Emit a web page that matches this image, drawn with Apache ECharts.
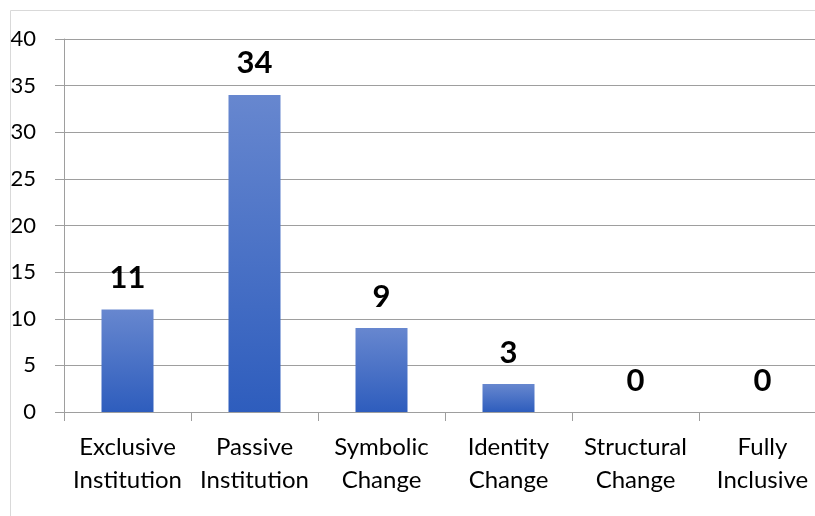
<!DOCTYPE html>
<html><head><meta charset="utf-8">
<script src="https://cdn.jsdelivr.net/npm/echarts@6/dist/echarts.min.js"></script>
<style>html,body{margin:0;padding:0;background:#fff}#c{width:815px;height:516px}</style>
</head><body><div id="c"></div>
<script>
const categories = ['Exclusive\nInstitution','Passive\nInstitution','Symbolic\nChange','Identity\nChange','Structural\nChange','Fully\nInclusive'];
const values = [11, 34, 9, 3, 0, 0];
const yMin = 0, yMax = 40, yStep = 5;

const chart = echarts.init(document.getElementById('c'), null, {renderer:'canvas'});
const font = 'Lato, "Open Sans", sans-serif';
chart.setOption({
  animation: false,
  graphic: [{
    type: 'rect', left: 8, top: 8, shape: {width: 900, height: 506},
    style: {fill: 'none', stroke: '#d9d9d9', lineWidth: 1}, silent: true, z: -1
  }],
  grid: {left: 64, width: 762, top: 39, height: 373, containLabel: false, outerBoundsMode: 'none'},
  xAxis: {
    type: 'category', data: categories,
    axisLine: {lineStyle: {color: '#9e9e9e', width: 1}},
    axisTick: {show: true, length: 9, alignWithLabel: false, lineStyle: {color: '#9e9e9e'}},
    axisLabel: {color: '#000', fontFamily: font, fontSize: 24, lineHeight: 33, margin: 19, interval: 0}
  },
  yAxis: {
    type: 'value', min: yMin, max: yMax, interval: yStep,
    axisLine: {show: true, lineStyle: {color: '#9e9e9e', width: 1}},
    axisTick: {show: true, length: 9, lineStyle: {color: '#9e9e9e'}},
    splitLine: {show: true, lineStyle: {color: '#9e9e9e', width: 1}},
    axisLabel: {color: '#000', fontFamily: font, fontSize: 22, margin: 28}
  },
  series: [{
    type: 'bar', data: values, barWidth: 52,
    itemStyle: {color: new echarts.graphic.LinearGradient(0,0,0,1,[
      {offset: 0, color: '#6787cf'}, {offset: 1, color: '#2e5dbd'}])},
    label: {show: true, position: 'top', distance: 16, color: '#000',
      fontFamily: font, fontWeight: 'bold', fontSize: 31}
  }]
});
</script></body></html>
